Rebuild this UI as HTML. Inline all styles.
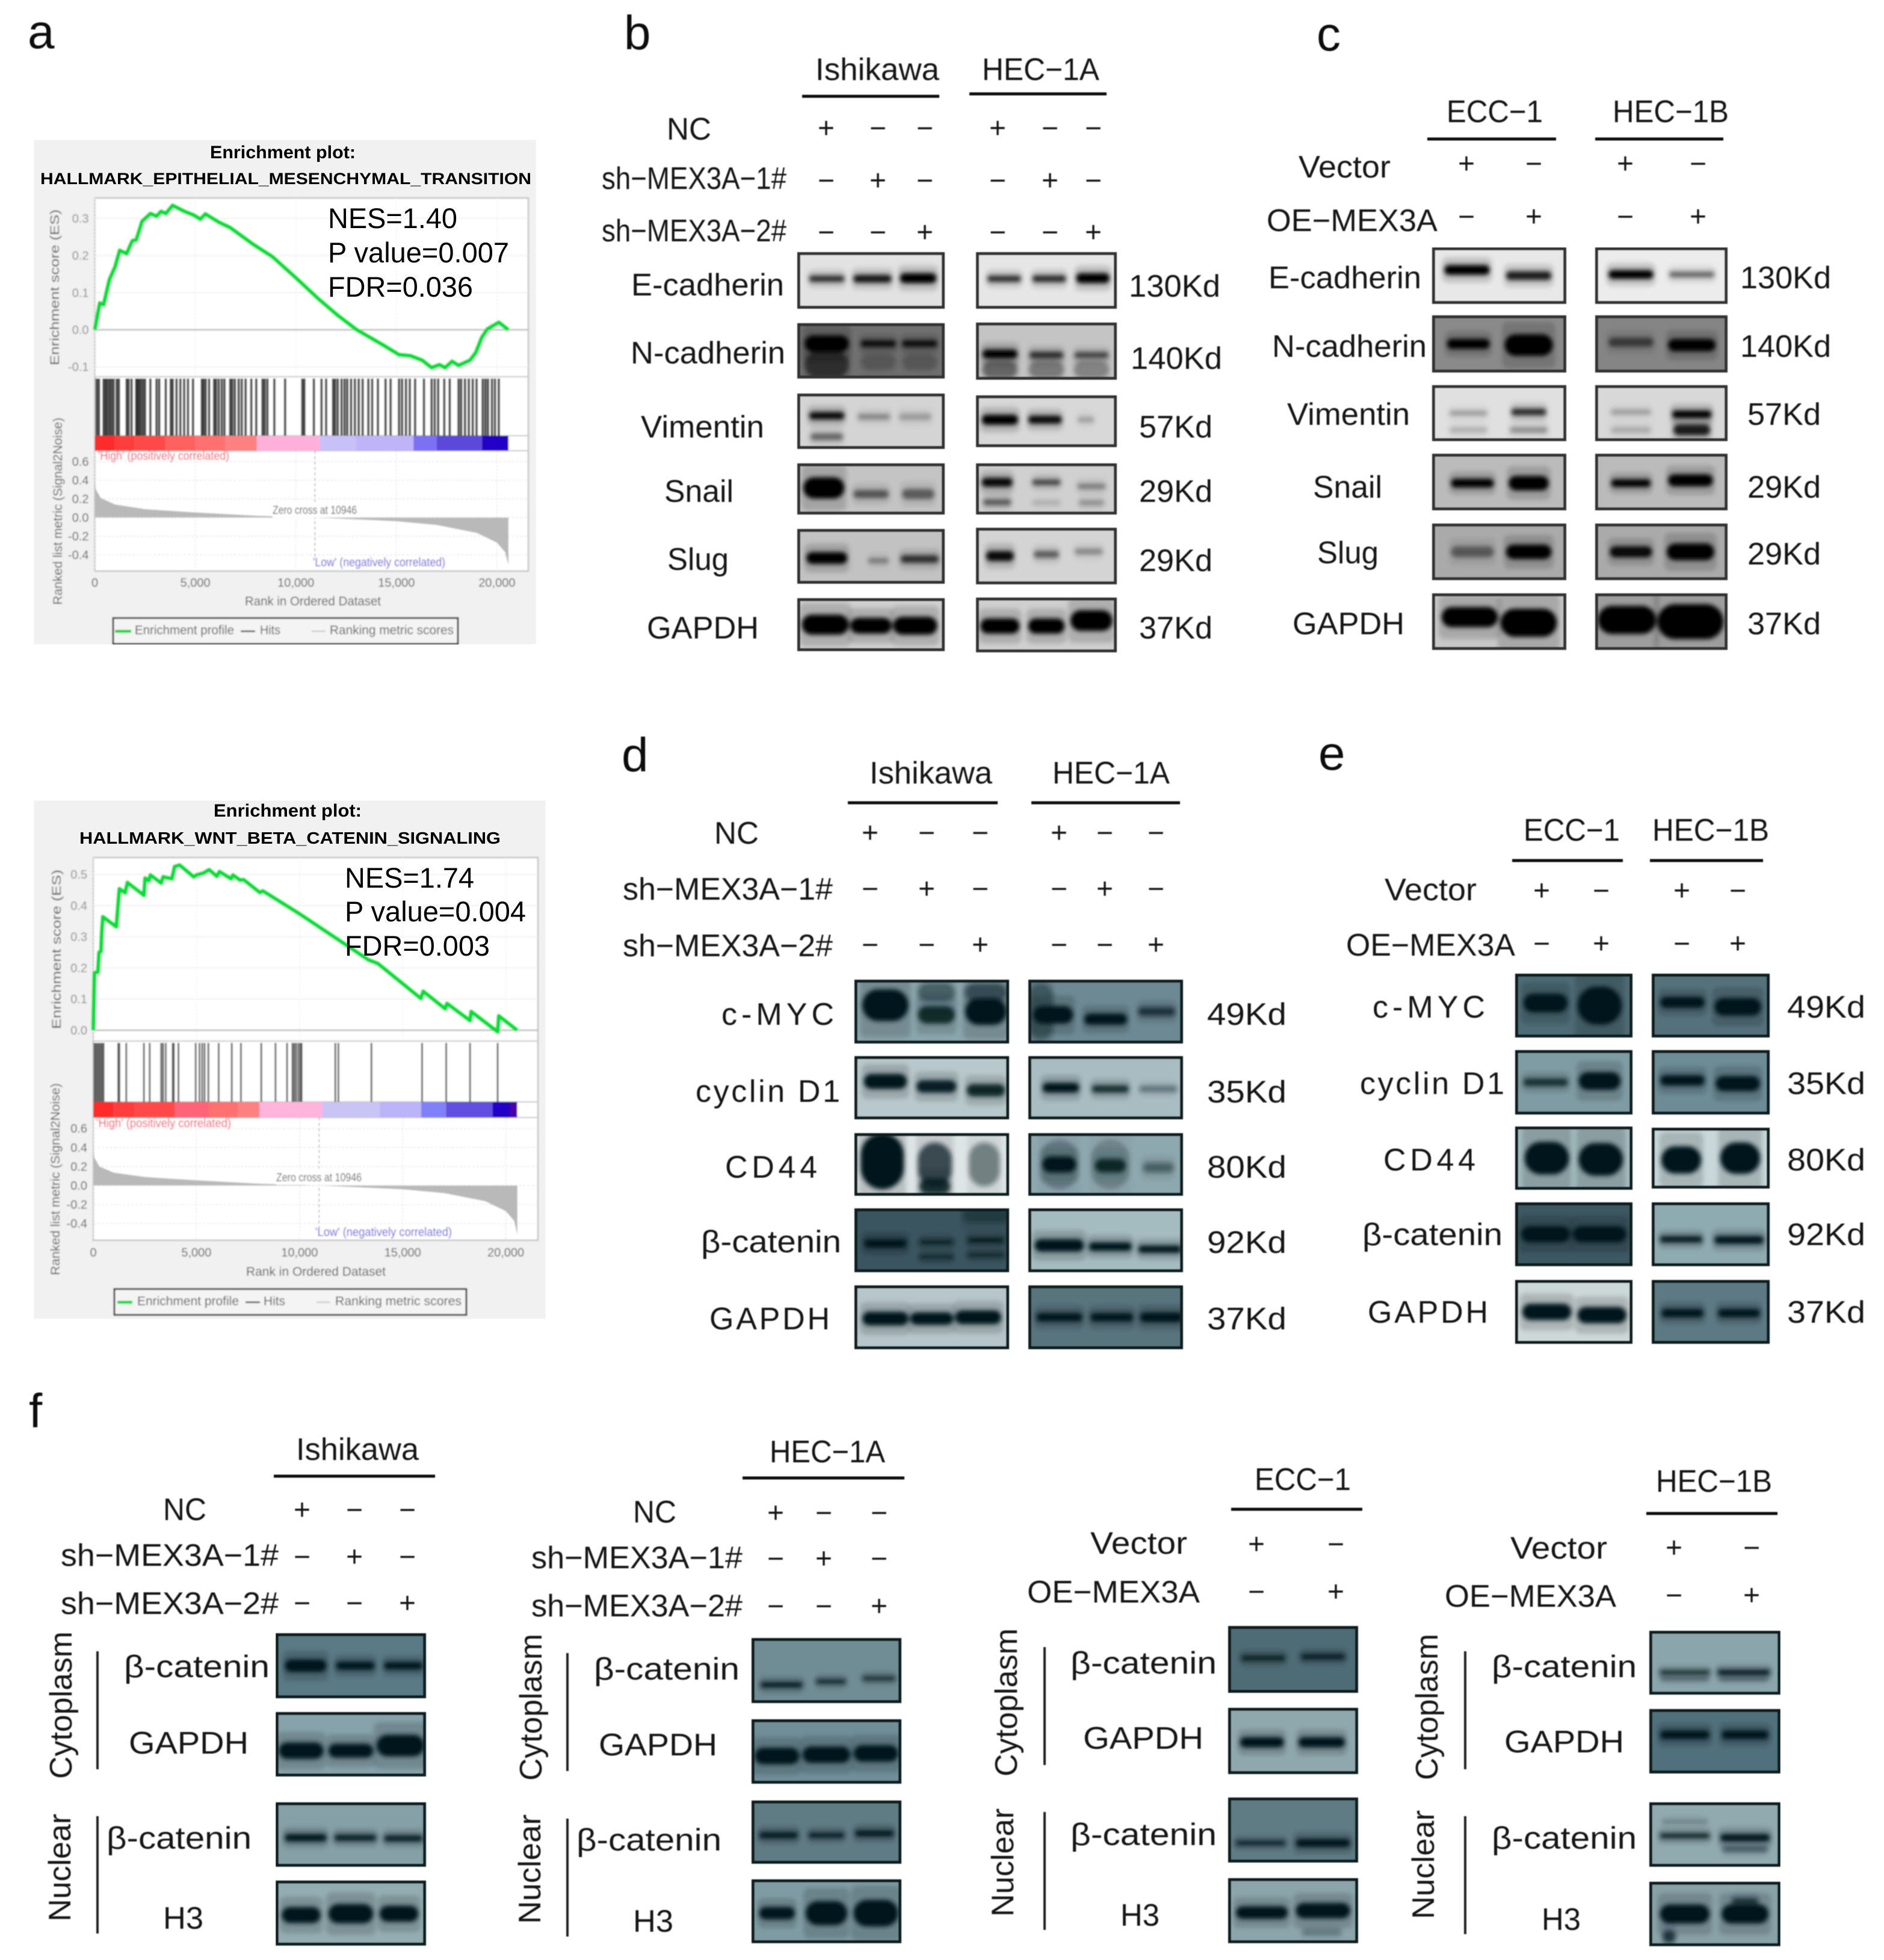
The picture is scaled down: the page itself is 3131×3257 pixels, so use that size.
<!DOCTYPE html>
<html lang="en">
<head>
<meta charset="utf-8">
<title>MEX3A enrichment plots and western blots</title>
<style>
html,body{margin:0;padding:0;background:#fff}
svg{display:block}
text{font-family:"Liberation Sans",Arial,sans-serif;fill:#141414}
.p{font-size:80px;fill:#111}
.t{font-size:52px}
.s{font-size:48px;text-anchor:middle}
.nes{font-size:47px;fill:#000}
.ti{font-size:30px;font-weight:bold;fill:#000}
.g{font-size:21px;fill:#555}
.tk{font-size:20px;fill:#8a8a8a}
.hi{font-size:20px;fill:#f04060}
.lo{font-size:20px;fill:#5a4ad8}
.zc{font-size:19px;fill:#555}
.ln{stroke:#111;stroke-width:5;fill:none}
.vl{stroke:#222;stroke-width:4;fill:none}
</style>
</head>
<body>
<svg id="figure" xmlns="http://www.w3.org/2000/svg" width="3131" height="3257" viewBox="0 0 3131 3257">
<defs>
<filter id="bandBlur" x="-30%" y="-80%" width="160%" height="260%"><feGaussianBlur stdDeviation="3.8"/></filter>
<filter id="softA" x="0" y="0" width="100%" height="100%"><feGaussianBlur stdDeviation="1"/></filter>
<filter id="softB" x="0" y="0" width="100%" height="100%"><feGaussianBlur stdDeviation="0.7"/></filter>
</defs>
<rect width="3131" height="3257" fill="#fff"/>

<!-- Panel a, top enrichment plot -->
<g filter="url(#softA)">
<rect x="56" y="232" width="835" height="839" fill="#f1f1f1"/>
<g id="chart1"></g>
<rect x="453" y="834" width="140" height="26" fill="#fff"/>
<text class="g" transform="rotate(-90 98 607)" x="98" y="607" textLength="259">Enrichment score (ES)</text>
<text class="g" transform="rotate(-90 103 1005)" x="103" y="1005" textLength="311">Ranked list metric (Signal2Noise)</text>
<text class="hi" x="163" y="764" textLength="218">'High' (positively correlated)</text>
<text class="lo" x="520" y="941" textLength="220">'Low' (negatively correlated)</text>
<text class="zc" x="453" y="854" textLength="140">Zero cross at 10946</text>
<text class="g" x="407" y="1006" textLength="226">Rank in Ordered Dataset</text>
<rect x="188" y="1027" width="573" height="43" fill="#f4f4f4" stroke="#333" stroke-width="3"/>
<line x1="191" x2="218" y1="1049" y2="1049" stroke="#00d840" stroke-width="5"/>
<text class="g" x="224" y="1054" textLength="165">Enrichment profile</text>
<line x1="400" x2="424" y1="1049" y2="1049" stroke="#444" stroke-width="2.5"/>
<text class="g" x="432" y="1054" textLength="34">Hits</text>
<line x1="518" x2="541" y1="1049" y2="1049" stroke="#ccc" stroke-width="2.5"/>
<text class="g" x="548" y="1054" textLength="206">Ranking metric scores</text>
</g>
<text class="ti" x="349" y="263" textLength="242">Enrichment plot:</text>
<text class="ti" x="67" y="306" textLength="816" style="font-size:27px">HALLMARK_EPITHELIAL_MESENCHYMAL_TRANSITION</text>
<text class="nes" x="545" y="379" textLength="215">NES=1.40</text>
<text class="nes" x="545" y="436" textLength="301">P value=0.007</text>
<text class="nes" x="545" y="493" textLength="241">FDR=0.036</text>

<!-- Panel a, bottom enrichment plot -->
<g filter="url(#softA)">
<rect x="56" y="1330" width="851" height="862" fill="#f1f1f1"/>
<g id="chart2"></g>
<rect x="459" y="1942" width="142" height="27" fill="#fff"/>
<text class="g" transform="rotate(-90 101 1710)" x="101" y="1710" textLength="265">Enrichment score (ES)</text>
<text class="g" transform="rotate(-90 99 2119)" x="99" y="2119" textLength="319">Ranked list metric (Signal2Noise)</text>
<text class="hi" x="160" y="1873" textLength="224">'High' (positively correlated)</text>
<text class="lo" x="524" y="2054" textLength="227">'Low' (negatively correlated)</text>
<text class="zc" x="459" y="1963" textLength="142">Zero cross at 10946</text>
<text class="g" x="409" y="2120" textLength="232">Rank in Ordered Dataset</text>
<rect x="190" y="2142" width="585" height="43" fill="#f4f4f4" stroke="#333" stroke-width="3"/>
<line x1="195" x2="220" y1="2164" y2="2164" stroke="#00d840" stroke-width="5"/>
<text class="g" x="228" y="2169" textLength="169">Enrichment profile</text>
<line x1="408" x2="432" y1="2164" y2="2164" stroke="#444" stroke-width="2.5"/>
<text class="g" x="438" y="2169" textLength="36">Hits</text>
<line x1="526" x2="548" y1="2164" y2="2164" stroke="#ccc" stroke-width="2.5"/>
<text class="g" x="557" y="2169" textLength="210">Ranking metric scores</text>
</g>
<text class="ti" x="355" y="1357" textLength="246">Enrichment plot:</text>
<text class="ti" x="132" y="1402" textLength="700" style="font-size:28px">HALLMARK_WNT_BETA_CATENIN_SIGNALING</text>
<text class="nes" x="573" y="1475" textLength="215">NES=1.74</text>
<text class="nes" x="573" y="1531" textLength="301">P value=0.004</text>
<text class="nes" x="573" y="1588" textLength="241">FDR=0.003</text>

<g id="blotLayer" filter="url(#softB)"></g>

<g filter="url(#softB)">
<!-- panel letters -->
<text class="p" x="46" y="80">a</text>
<text class="p" x="1037" y="82">b</text>
<text class="p" x="2188" y="84">c</text>
<text class="p" x="1033" y="1282">d</text>
<text class="p" x="2191" y="1279">e</text>
<text class="p" x="48" y="2372">f</text>

<!-- panel b -->
<text class="t" x="1355" y="133" textLength="206">Ishikawa</text>
<text class="t" x="1632" y="133" textLength="195">HEC−1A</text>
<line class="ln" x1="1333" x2="1561" y1="160" y2="160"/>
<line class="ln" x1="1611" x2="1839" y1="156" y2="156"/>
<text class="t" x="1108" y="232" textLength="74">NC</text>
<text class="t" x="1000" y="314" textLength="307">sh−MEX3A−1#</text>
<text class="t" x="1000" y="401" textLength="307">sh−MEX3A−2#</text>
<text class="s" y="229"><tspan x="1373">+</tspan><tspan x="1459">−</tspan><tspan x="1537">−</tspan><tspan x="1658">+</tspan><tspan x="1745">−</tspan><tspan x="1817">−</tspan></text>
<text class="s" y="316"><tspan x="1373">−</tspan><tspan x="1459">+</tspan><tspan x="1537">−</tspan><tspan x="1658">−</tspan><tspan x="1745">+</tspan><tspan x="1817">−</tspan></text>
<text class="s" y="402"><tspan x="1373">−</tspan><tspan x="1459">−</tspan><tspan x="1537">+</tspan><tspan x="1658">−</tspan><tspan x="1745">−</tspan><tspan x="1817">+</tspan></text>
<text class="t" x="1049" y="491" textLength="254">E-cadherin</text>
<text class="t" x="1048" y="604" textLength="257">N-cadherin</text>
<text class="t" x="1065" y="727" textLength="205">Vimentin</text>
<text class="t" x="1104" y="834" textLength="115">Snail</text>
<text class="t" x="1109" y="947" textLength="102">Slug</text>
<text class="t" x="1075" y="1061" textLength="186">GAPDH</text>
<text class="t" x="1876" y="493" textLength="152">130Kd</text>
<text class="t" x="1879" y="613" textLength="152">140Kd</text>
<text class="t" x="1893" y="727" textLength="122">57Kd</text>
<text class="t" x="1893" y="834" textLength="122">29Kd</text>
<text class="t" x="1893" y="949" textLength="122">29Kd</text>
<text class="t" x="1893" y="1061" textLength="122">37Kd</text>

<!-- panel c -->
<text class="t" x="2404" y="203" textLength="160">ECC−1</text>
<text class="t" x="2680" y="203" textLength="193">HEC−1B</text>
<line class="ln" x1="2372" x2="2586" y1="231" y2="231"/>
<line class="ln" x1="2651" x2="2864" y1="231" y2="231"/>
<text class="t" x="2158" y="295" textLength="153">Vector</text>
<text class="t" x="2105" y="384" textLength="284">OE−MEX3A</text>
<text class="s" y="288"><tspan x="2437">+</tspan><tspan x="2549">−</tspan><tspan x="2701">+</tspan><tspan x="2822">−</tspan></text>
<text class="s" y="376"><tspan x="2437">−</tspan><tspan x="2549">+</tspan><tspan x="2701">−</tspan><tspan x="2822">+</tspan></text>
<text class="t" x="2108" y="479" textLength="254">E-cadherin</text>
<text class="t" x="2114" y="593" textLength="257">N-cadherin</text>
<text class="t" x="2139" y="706" textLength="204">Vimentin</text>
<text class="t" x="2182" y="827" textLength="115">Snail</text>
<text class="t" x="2189" y="936" textLength="102">Slug</text>
<text class="t" x="2148" y="1054" textLength="186">GAPDH</text>
<text class="t" x="2892" y="479" textLength="151">130Kd</text>
<text class="t" x="2892" y="593" textLength="151">140Kd</text>
<text class="t" x="2904" y="706" textLength="122">57Kd</text>
<text class="t" x="2904" y="827" textLength="122">29Kd</text>
<text class="t" x="2904" y="938" textLength="122">29Kd</text>
<text class="t" x="2904" y="1054" textLength="122">37Kd</text>

<!-- panel d -->
<text class="t" x="1445" y="1302" textLength="204">Ishikawa</text>
<text class="t" x="1749" y="1302" textLength="195">HEC−1A</text>
<line class="ln" x1="1409" x2="1658" y1="1334" y2="1334"/>
<line class="ln" x1="1714" x2="1961" y1="1334" y2="1334"/>
<text class="t" x="1187" y="1402" textLength="74">NC</text>
<text class="t" x="1035" y="1495" textLength="349">sh−MEX3A−1#</text>
<text class="t" x="1035" y="1589" textLength="349">sh−MEX3A−2#</text>
<text class="s" y="1400"><tspan x="1446">+</tspan><tspan x="1540">−</tspan><tspan x="1629">−</tspan><tspan x="1760">+</tspan><tspan x="1836">−</tspan><tspan x="1921">−</tspan></text>
<text class="s" y="1493"><tspan x="1446">−</tspan><tspan x="1540">+</tspan><tspan x="1629">−</tspan><tspan x="1760">−</tspan><tspan x="1836">+</tspan><tspan x="1921">−</tspan></text>
<text class="s" y="1586"><tspan x="1446">−</tspan><tspan x="1540">−</tspan><tspan x="1629">+</tspan><tspan x="1760">−</tspan><tspan x="1836">−</tspan><tspan x="1921">+</tspan></text>
<text class="t sp" x="1199" y="1703" textLength="187">c-MYC</text>
<text class="t sp" x="1156" y="1831" textLength="240">cyclin D1</text>
<text class="t sp" x="1205" y="1957" textLength="153">CD44</text>
<text class="t" x="1165" y="2081" textLength="233">β-catenin</text>
<text class="t sp" x="1179" y="2209" textLength="200">GAPDH</text>
<text class="t" x="2006" y="1703" textLength="132">49Kd</text>
<text class="t" x="2006" y="1832" textLength="132">35Kd</text>
<text class="t" x="2006" y="1957" textLength="132">80Kd</text>
<text class="t" x="2006" y="2082" textLength="132">92Kd</text>
<text class="t" x="2006" y="2209" textLength="132">37Kd</text>

<!-- panel e -->
<text class="t" x="2532" y="1397" textLength="160">ECC−1</text>
<text class="t" x="2746" y="1397" textLength="194">HEC−1B</text>
<line class="ln" x1="2513" x2="2697" y1="1430" y2="1430"/>
<line class="ln" x1="2742" x2="2930" y1="1430" y2="1430"/>
<text class="t" x="2301" y="1496" textLength="153">Vector</text>
<text class="t" x="2237" y="1588" textLength="281">OE−MEX3A</text>
<text class="s" y="1496"><tspan x="2562">+</tspan><tspan x="2661">−</tspan><tspan x="2795">+</tspan><tspan x="2888">−</tspan></text>
<text class="s" y="1584"><tspan x="2562">−</tspan><tspan x="2661">+</tspan><tspan x="2795">−</tspan><tspan x="2888">+</tspan></text>
<text class="t sp" x="2281" y="1691" textLength="187">c-MYC</text>
<text class="t sp" x="2260" y="1818" textLength="240">cyclin D1</text>
<text class="t sp" x="2299" y="1945" textLength="153">CD44</text>
<text class="t" x="2264" y="2069" textLength="233">β-catenin</text>
<text class="t sp" x="2273" y="2198" textLength="200">GAPDH</text>
<text class="t" x="2970" y="1691" textLength="130">49Kd</text>
<text class="t" x="2970" y="1818" textLength="130">35Kd</text>
<text class="t" x="2970" y="1945" textLength="130">80Kd</text>
<text class="t" x="2970" y="2069" textLength="130">92Kd</text>
<text class="t" x="2970" y="2198" textLength="130">37Kd</text>

<!-- panel f: Ishikawa -->
<text class="t" x="492" y="2426" textLength="204">Ishikawa</text>
<line class="ln" x1="455" x2="723" y1="2453" y2="2453"/>
<text class="t" x="271" y="2526" textLength="72">NC</text>
<text class="t" x="101" y="2602" textLength="362">sh−MEX3A−1#</text>
<text class="t" x="101" y="2682" textLength="362">sh−MEX3A−2#</text>
<text class="s" y="2525"><tspan x="502">+</tspan><tspan x="589">−</tspan><tspan x="677">−</tspan></text>
<text class="s" y="2603"><tspan x="502">−</tspan><tspan x="589">+</tspan><tspan x="677">−</tspan></text>
<text class="s" y="2680"><tspan x="502">−</tspan><tspan x="589">−</tspan><tspan x="677">+</tspan></text>
<text class="t" transform="rotate(-90 119 2956)" x="119" y="2956" textLength="245">Cytoplasm</text>
<text class="t" transform="rotate(-90 117 3193)" x="117" y="3193" textLength="179">Nuclear</text>
<line class="vl" x1="162" x2="162" y1="2744" y2="2940"/>
<line class="vl" x1="162" x2="162" y1="3018" y2="3213"/>
<text class="t" x="206" y="2787" textLength="242">β-catenin</text>
<text class="t" x="214" y="2914" textLength="199">GAPDH</text>
<text class="t" x="177" y="3072" textLength="241">β-catenin</text>
<text class="t" x="271" y="3205" textLength="67">H3</text>

<!-- panel f: HEC-1A -->
<text class="t" x="1279" y="2430" textLength="192">HEC−1A</text>
<line class="ln" x1="1234" x2="1503" y1="2456" y2="2456"/>
<text class="t" x="1052" y="2530" textLength="72">NC</text>
<text class="t" x="883" y="2606" textLength="351">sh−MEX3A−1#</text>
<text class="t" x="883" y="2686" textLength="351">sh−MEX3A−2#</text>
<text class="s" y="2530"><tspan x="1289">+</tspan><tspan x="1369">−</tspan><tspan x="1461">−</tspan></text>
<text class="s" y="2606"><tspan x="1289">−</tspan><tspan x="1369">+</tspan><tspan x="1461">−</tspan></text>
<text class="s" y="2685"><tspan x="1289">−</tspan><tspan x="1369">−</tspan><tspan x="1461">+</tspan></text>
<text class="t" transform="rotate(-90 900 2959)" x="900" y="2959" textLength="244">Cytoplasm</text>
<text class="t" transform="rotate(-90 898 3197)" x="898" y="3197" textLength="182">Nuclear</text>
<line class="vl" x1="943" x2="943" y1="2747" y2="2943"/>
<line class="vl" x1="943" x2="943" y1="3022" y2="3218"/>
<text class="t" x="987" y="2791" textLength="242">β-catenin</text>
<text class="t" x="995" y="2917" textLength="197">GAPDH</text>
<text class="t" x="958" y="3075" textLength="241">β-catenin</text>
<text class="t" x="1052" y="3210" textLength="67">H3</text>

<!-- panel f: ECC-1 -->
<text class="t" x="2085" y="2476" textLength="160">ECC−1</text>
<line class="ln" x1="2046" x2="2264" y1="2508" y2="2508"/>
<text class="t" x="1812" y="2582" textLength="161">Vector</text>
<text class="t" x="1707" y="2663" textLength="287">OE−MEX3A</text>
<text class="s" y="2582"><tspan x="2088">+</tspan><tspan x="2220">−</tspan></text>
<text class="s" y="2661"><tspan x="2088">−</tspan><tspan x="2220">+</tspan></text>
<text class="t" transform="rotate(-90 1690 2952)" x="1690" y="2952" textLength="246">Cytoplasm</text>
<text class="t" transform="rotate(-90 1684 3185)" x="1684" y="3185" textLength="180">Nuclear</text>
<line class="vl" x1="1736" x2="1736" y1="2737" y2="2933"/>
<line class="vl" x1="1736" x2="1736" y1="3011" y2="3207"/>
<text class="t" x="1779" y="2781" textLength="243">β-catenin</text>
<text class="t" x="1800" y="2906" textLength="200">GAPDH</text>
<text class="t" x="1779" y="3066" textLength="243">β-catenin</text>
<text class="t" x="1862" y="3200" textLength="65">H3</text>

<!-- panel f: HEC-1B -->
<text class="t" x="2752" y="2479" textLength="193">HEC−1B</text>
<line class="ln" x1="2736" x2="2954" y1="2515" y2="2515"/>
<text class="t" x="2510" y="2590" textLength="161">Vector</text>
<text class="t" x="2401" y="2670" textLength="285">OE−MEX3A</text>
<text class="s" y="2588"><tspan x="2782">+</tspan><tspan x="2911">−</tspan></text>
<text class="s" y="2667"><tspan x="2782">−</tspan><tspan x="2911">+</tspan></text>
<text class="t" transform="rotate(-90 2389 2958)" x="2389" y="2958" textLength="243">Cytoplasm</text>
<text class="t" transform="rotate(-90 2383 3189)" x="2383" y="3189" textLength="181">Nuclear</text>
<line class="vl" x1="2435" x2="2435" y1="2744" y2="2940"/>
<line class="vl" x1="2435" x2="2435" y1="3018" y2="3214"/>
<text class="t" x="2479" y="2787" textLength="241">β-catenin</text>
<text class="t" x="2500" y="2912" textLength="199">GAPDH</text>
<text class="t" x="2479" y="3072" textLength="241">β-catenin</text>
<text class="t" x="2562" y="3207" textLength="65">H3</text>
</g>
</svg>

<script>
// ---------- chart data ----------
const xTickValues = [0, 5000, 10000, 15000, 20000];
const xTickLabels = ["0", "5,000", "10,000", "15,000", "20,000"];
const metricTickValues = [-0.4, -0.2, 0, 0.2, 0.4, 0.6];
const metricTickLabels = ["-0.4", "-0.2", "0.0", "0.2", "0.4", "0.6"];
const emtEsTickValues = [-0.1, 0, 0.1, 0.2, 0.3];
const emtEsTickLabels = ["-0.1", "0.0", "0.1", "0.2", "0.3"];
const wntEsTickValues = [0, 0.1, 0.2, 0.3, 0.4, 0.5];
const wntEsTickLabels = ["0.0", "0.1", "0.2", "0.3", "0.4", "0.5"];

const emtRanks = [0,250,440,725,1010,1240,1580,1870,2060,2350,2770,3070,3300,3530,3870,4450,4920,5250,5500,6160,6740,7880,8830,9980,11130,12080,13030,14370,15130,15700,16280,16750,17140,17420,17770,18090,18660,18950,19240,19520,20090,20570];
const emtScores = [0,.072,.068,.135,.17,.214,.205,.24,.242,.292,.313,.306,.319,.313,.335,.319,.309,.298,.312,.29,.275,.23,.197,.141,.083,.039,0,-.042,-.067,-.07,-.082,-.102,-.094,-.102,-.085,-.096,-.082,-.061,-.021,.002,.02,0];
const emtHits = [95,210,440,535,610,725,820,935,1090,1200,1585,1680,1830,2060,2120,2195,2270,2385,2500,2765,3070,3205,3530,3780,3875,4065,4255,4445,4635,4885,5325,5400,5515,5685,5935,6030,6165,6315,6450,6735,6830,6965,7155,7310,7500,7785,8030,8340,8450,8585,8930,9465,10320,10420,10895,11275,11505,11850,11945,12080,12270,12420,12555,12745,12935,13125,13320,13605,13795,14080,14460,14710,15130,15280,15475,15665,15930,16370,16750,16905,17075,17380,17650,18090,18220,18410,18600,18795,18985,19290,19425,19555,19750,19900,20090];
const emtBarEnds = [1000,2000,3500,5000,6500,8050,11180,13000,15850,17000,19250,20570];
const emtBarColors = ["#ff2a2a","#ff3c3c","#ff4a4a","#ff6060","#ff7070","#ff8080","#ffb0da","#c8c0f8","#c0b4f8","#7c70f4","#5c48dc","#2400c8"];
const emtMetricRanks = [0,60,300,1000,2500,5000,8000,10946,15000,17000,19000,20000,20400,20570];
const emtMetricValues = [.39,.3,.21,.14,.09,.055,.02,0,-.04,-.08,-.165,-.27,-.37,-.51];

const wntRanks = [0,56,223,280,372,410,465,1116,1265,1544,1655,2455,2511,2697,2771,3292,3385,3813,3943,4185,4873,5003,5338,5617,5989,6119,6677,6770,7105,7291,8072,8221,9988,13336,13801,15884,15996,17056,17149,18265,18321,19604,19660,20553];
const wntScores = [0,.184,.187,.25,.253,.314,.364,.332,.454,.441,.474,.433,.488,.48,.498,.472,.492,.486,.525,.53,.492,.498,.504,.515,.494,.509,.486,.498,.482,.483,.442,.447,.374,.226,.214,.102,.125,.069,.086,.031,.06,-.005,.046,0];
const wntHits = [56,130,205,280,355,430,500,1210,1265,1600,2455,2735,3290,3385,3515,3850,3905,4130,4965,5150,5280,5395,5580,6080,6715,7160,8145,8835,9395,9655,9745,9840,9950,10045,10100,11735,11885,13485,15940,17110,18265,19605];
const wntBarEnds = [1000,2000,3950,5600,7000,8050,11100,13900,15900,17100,19350,20200,20550];
const wntBarColors = ["#ff2a2a","#ff3c3c","#ff4a4a","#ff6478","#ff7070","#ff8080","#ffb4dc","#c8c4f4","#bcb4f8","#8080f8","#6050e0","#2400c8","#4a00a8"];
const wntMetricRanks = [0,60,300,1000,2500,5000,8000,10946,15000,17000,19000,20000,20400,20560];
const wntMetricValues = [.375,.29,.2,.135,.09,.055,.02,0,-.04,-.08,-.165,-.27,-.37,-.52];

// ---------- blot data: [name, x, y, w, h, background, bands]; band = [cx, cy, w, h, opacity] as fractions ----------
const blotsGrey = [
["b-ishikawa-e-cadherin",1325,419,245,94,"#e2e2e2",[[.2,.47,.24,.11,.8],[.51,.47,.26,.14,.9],[.82,.46,.25,.18,1]]],
["b-ishikawa-n-cadherin",1325,537,245,92,"#707070",[[.2,.37,.3,.3,1],[.2,.75,.3,.5,.55],[.55,.37,.24,.12,.9],[.83,.37,.24,.12,.9],[.55,.7,.24,.3,.2],[.83,.7,.24,.3,.2]]],
["b-ishikawa-vimentin",1325,654,245,92,"#d4d4d4",[[.2,.4,.24,.14,.95],[.2,.78,.22,.12,.5],[.52,.42,.22,.1,.35],[.8,.42,.22,.12,.25]]],
["b-ishikawa-snail",1325,770,245,85,"#c4c4c4",[[.18,.48,.28,.42,1],[.5,.6,.24,.16,.55],[.82,.6,.22,.2,.5]]],
["b-ishikawa-slug",1325,879,245,91,"#c2c2c2",[[.2,.53,.28,.22,1],[.55,.58,.14,.08,.4],[.83,.55,.26,.14,.75]]],
["b-ishikawa-gapdh",1325,994,245,88,"#d0d0d0",[[.19,.5,.32,.38,1],[.5,.52,.28,.3,1],[.8,.52,.3,.34,1]]],
["b-hec1a-e-cadherin",1622,419,234,94,"#e6e6e6",[[.2,.47,.24,.11,.8],[.52,.47,.24,.12,.8],[.83,.46,.24,.18,1]]],
["b-hec1a-n-cadherin",1622,536,234,95,"#c4c4c4",[[.17,.55,.25,.16,1],[.17,.82,.25,.3,.45],[.5,.57,.24,.12,.75],[.5,.82,.25,.3,.35],[.82,.57,.24,.1,.65],[.82,.82,.25,.3,.3]]],
["b-hec1a-vimentin",1622,657,234,86,"#d8d8d8",[[.17,.47,.26,.2,1],[.49,.47,.24,.16,.95],[.78,.47,.12,.1,.25]]],
["b-hec1a-snail",1622,770,234,85,"#d0d0d0",[[.15,.37,.22,.18,.95],[.15,.76,.2,.12,.55],[.5,.37,.2,.1,.7],[.5,.77,.2,.06,.2],[.82,.45,.2,.1,.4],[.82,.77,.18,.1,.3]]],
["b-hec1a-slug",1622,877,234,94,"#d4d4d4",[[.17,.5,.2,.18,.95],[.5,.47,.18,.12,.55],[.8,.42,.2,.1,.35]]],
["b-hec1a-gapdh",1622,993,234,91,"#cfcfcf",[[.17,.52,.28,.28,1],[.5,.52,.26,.28,1],[.82,.42,.3,.38,1]]],
["c-ecc1-e-cadherin",2380,411,223,94,"#e8e8e8",[[.26,.4,.34,.18,1],[.72,.5,.34,.16,.85]]],
["c-ecc1-n-cadherin",2380,524,223,95,"#8a8a8a",[[.27,.5,.32,.18,1],[.72,.52,.36,.38,1]]],
["c-ecc1-vimentin",2380,640,223,93,"#e0e0e0",[[.27,.5,.28,.08,.3],[.27,.8,.28,.1,.2],[.72,.48,.26,.12,.8],[.72,.8,.28,.1,.35]]],
["c-ecc1-snail",2380,754,223,94,"#bbbbbb",[[.3,.52,.32,.16,1],[.72,.52,.3,.26,1]]],
["c-ecc1-slug",2380,870,223,94,"#aaaaaa",[[.3,.5,.32,.2,.45],[.72,.5,.34,.26,1]]],
["c-ecc1-gapdh",2380,986,223,94,"#c8c8c8",[[.28,.42,.42,.36,1],[.72,.52,.42,.5,1]]],
["c-hec1b-e-cadherin",2651,411,220,94,"#ececec",[[.27,.48,.34,.16,1],[.73,.48,.34,.1,.55]]],
["c-hec1b-n-cadherin",2651,524,220,95,"#858585",[[.27,.47,.34,.16,.55],[.73,.52,.36,.22,1]]],
["c-hec1b-vimentin",2651,640,220,93,"#d8d8d8",[[.27,.48,.3,.07,.3],[.27,.8,.3,.1,.2],[.73,.52,.3,.14,1],[.73,.8,.28,.2,.85]]],
["c-hec1b-snail",2651,754,220,94,"#bbbbbb",[[.27,.52,.3,.14,1],[.72,.47,.34,.22,1]]],
["c-hec1b-slug",2651,870,220,94,"#aaaaaa",[[.27,.5,.32,.2,.95],[.72,.5,.36,.3,1]]],
["c-hec1b-gapdh",2651,986,220,94,"#bbbbbb",[[.24,.47,.44,.5,1],[.72,.5,.5,.62,1]]]
];
const blotsTeal = [
["d-ishikawa-cmyc",1420,1628,257,106,"#8aa6ad",[[.2,.4,.3,.5,1],[.53,.2,.24,.3,.45],[.53,.55,.24,.28,.85],[.85,.2,.27,.3,.5],[.85,.5,.27,.42,1]]],
["d-ishikawa-cyclin-d1",1420,1755,257,105,"#b8c8cc",[[.2,.4,.28,.24,1],[.53,.48,.26,.2,.95],[.85,.54,.25,.2,.9]]],
["d-ishikawa-cd44",1420,1883,257,104,"#dde5e6",[[.18,.45,.28,.9,1],[.52,.5,.22,.7,.7],[.52,.85,.2,.25,.85],[.84,.5,.2,.7,.45]]],
["d-ishikawa-beta-catenin",1420,2008,257,106,"#3a5560",[[.2,.55,.28,.14,1],[.53,.53,.22,.07,.85],[.53,.76,.22,.06,.8],[.85,.5,.24,.08,.9],[.85,.73,.24,.06,.8],[.85,.12,.3,.22,.4]]],
["d-ishikawa-gapdh",1420,2136,257,106,"#b6c6ca",[[.2,.52,.3,.22,1],[.5,.52,.28,.2,1],[.8,.5,.3,.22,1]]],
["d-hec1a-cmyc",1709,1628,257,106,"#6d8a94",[[.08,.5,.16,.9,.4],[.16,.55,.26,.28,1],[.5,.62,.28,.18,1],[.83,.5,.24,.14,.7]]],
["d-hec1a-cyclin-d1",1709,1755,257,105,"#a8bcc2",[[.21,.5,.24,.16,1],[.53,.52,.24,.12,.85],[.84,.52,.24,.07,.5]]],
["d-hec1a-cd44",1709,1883,257,104,"#8ea8af",[[.2,.5,.25,.8,.25],[.53,.5,.25,.8,.2],[.2,.5,.22,.26,1],[.53,.52,.2,.22,.85],[.84,.55,.2,.16,.45]]],
["d-hec1a-beta-catenin",1709,2008,257,106,"#a4bbc0",[[.2,.58,.32,.2,1],[.53,.6,.28,.14,1],[.85,.64,.28,.12,1]]],
["d-hec1a-gapdh",1709,2136,257,106,"#58747e",[[.2,.5,.3,.14,1],[.54,.5,.28,.14,1],[.86,.5,.28,.16,1]]],
["e-ecc1-cmyc",2518,1618,195,106,"#4e6c76",[[.26,.46,.38,.3,1],[.72,.5,.38,.6,1]]],
["e-ecc1-cyclin-d1",2518,1745,195,107,"#7f9ca4",[[.26,.5,.38,.12,.8],[.72,.48,.36,.28,1]]],
["e-ecc1-cd44",2518,1872,195,105,"#a4bcc0",[[.27,.5,.38,.52,1],[.73,.52,.38,.52,1]]],
["e-ecc1-beta-catenin",2518,1998,195,106,"#3c5862",[[.26,.5,.42,.26,1],[.72,.5,.46,.26,1]]],
["e-ecc1-gapdh",2518,2127,195,106,"#cdd8d8",[[.27,.5,.42,.26,1],[.74,.55,.42,.26,1]]],
["e-hec1b-cmyc",2745,1618,196,106,"#55727c",[[.26,.45,.38,.18,1],[.73,.52,.4,.28,1]]],
["e-hec1b-cyclin-d1",2745,1745,196,107,"#6d8c96",[[.26,.47,.38,.17,1],[.73,.52,.38,.24,1]]],
["e-hec1b-cd44",2745,1874,196,101,"#c8d8da",[[.25,.53,.34,.45,1],[.75,.5,.34,.52,1]]],
["e-hec1b-beta-catenin",2745,1998,196,106,"#8fabb2",[[.25,.58,.36,.1,1],[.74,.59,.42,.13,1]]],
["e-hec1b-gapdh",2745,2127,196,106,"#5d7a84",[[.26,.52,.36,.14,1],[.74,.52,.36,.14,1]]],
["f-ishikawa-cyt-beta-catenin",458,2714,250,108,"#5a7a86",[[.2,.5,.28,.2,1],[.53,.5,.26,.13,1],[.85,.5,.26,.12,1]]],
["f-ishikawa-cyt-gapdh",458,2845,250,107,"#86a2aa",[[.17,.6,.3,.26,1],[.5,.6,.3,.22,1],[.83,.52,.32,.34,1]]],
["f-ishikawa-nuc-beta-catenin",458,2995,250,107,"#86a0a8",[[.2,.55,.28,.12,1],[.53,.55,.28,.1,.95],[.85,.56,.26,.1,.95]]],
["f-ishikawa-h3",458,3125,250,108,"#93adb2",[[.17,.53,.26,.25,1],[.5,.51,.3,.3,1],[.82,.51,.26,.25,1]]],
["f-hec1a-cyt-beta-catenin",1249,2722,249,108,"#708c94",[[.2,.72,.28,.08,1],[.53,.67,.2,.06,.95],[.85,.62,.22,.06,.85]]],
["f-hec1a-cyt-gapdh",1249,2857,249,107,"#6f8e98",[[.17,.57,.3,.26,1],[.5,.55,.32,.26,1],[.83,.53,.3,.26,1]]],
["f-hec1a-nuc-beta-catenin",1249,2992,249,105,"#5f7b85",[[.18,.55,.26,.1,1],[.5,.55,.24,.08,.95],[.82,.52,.26,.1,1]]],
["f-hec1a-h3",1249,3123,249,106,"#7f9ca4",[[.17,.53,.24,.2,1],[.5,.53,.28,.38,1],[.83,.53,.3,.42,1]]],
["f-ecc1-cyt-beta-catenin",2041,2702,216,111,"#4e6c76",[[.27,.48,.34,.08,.9],[.73,.46,.34,.08,.95]]],
["f-ecc1-cyt-gapdh",2041,2838,216,110,"#8fa8ae",[[.26,.52,.34,.16,1],[.72,.52,.36,.16,1]]],
["f-ecc1-nuc-beta-catenin",2041,2987,216,108,"#5f7b85",[[.25,.7,.38,.06,1],[.73,.7,.42,.13,1]]],
["f-ecc1-h3",2041,3121,216,108,"#8ba5ab",[[.26,.53,.4,.2,1],[.73,.5,.42,.24,1],[.72,.83,.3,.07,.35]]],
["f-hec1b-cyt-beta-catenin",2741,2710,218,106,"#8aa6ac",[[.27,.65,.38,.06,.9],[.72,.65,.4,.08,1],[.27,.75,.36,.03,.6],[.72,.75,.36,.03,.6]]],
["f-hec1b-cyt-gapdh",2741,2840,218,107,"#50707c",[[.27,.4,.38,.14,1],[.73,.4,.36,.14,1]]],
["f-hec1b-nuc-beta-catenin",2741,2995,218,107,"#90aab0",[[.27,.3,.34,.04,.3],[.27,.52,.38,.08,.9],[.73,.55,.38,.12,1],[.73,.73,.34,.06,.6]]],
["f-hec1b-h3",2741,3127,218,107,"#88a2a8",[[.27,.5,.38,.3,1],[.73,.5,.36,.3,1],[.73,.3,.2,.08,.8],[.15,.85,.1,.2,.7]]]
];

const NS = "http://www.w3.org/2000/svg";

function node(parent, tag, attrs, name) {
  const el = document.createElementNS(NS, tag);
  for (const k in attrs) el.setAttribute(k, attrs[k]);
  
  
  parent.appendChild(el);
  return el;
}

function drawGsea(cfg) {
  const g = document.getElementById(cfg.id);
  const x = r => cfg.x0 + r * cfg.xPerRank;
  const yEs = v => cfg.esZero - v * cfg.esUnit;
  const yM = v => cfg.metricZero - v * cfg.metricUnit;

  node(g, 'rect', {x: cfg.x0, y: cfg.top, width: cfg.right - cfg.x0, height: cfg.bottom - cfg.top, fill: '#fff', stroke: '#c4c4c4', 'stroke-width': 2.5}, 'plot-area');

  // gridlines
  xTickValues.forEach(v => {
    node(g, 'line', {x1: x(v), x2: x(v), y1: cfg.top, y2: cfg.esBottom, stroke: '#eee', 'stroke-width': 1.5, 'stroke-dasharray': '3 3'}, 'x-grid-es');
    node(g, 'line', {x1: x(v), x2: x(v), y1: cfg.barBottom, y2: cfg.bottom, stroke: '#e6e6e6', 'stroke-width': 1.5, 'stroke-dasharray': '3 3'}, 'x-grid-metric');
  });
  cfg.esTicks.forEach((v, i) => {
    node(g, 'line', {x1: cfg.x0, x2: cfg.right, y1: yEs(v), y2: yEs(v), stroke: v === 0 ? '#bdbdbd' : '#eee', 'stroke-width': v === 0 ? 2.5 : 1.5}, 'es-gridline');
    const t = node(g, 'text', {x: cfg.x0 - 10, y: yEs(v) + 7, 'text-anchor': 'end', class: 'tk'}, 'es-tick-label');
    t.textContent = cfg.esLabels[i];
  });
  metricTickValues.forEach((v, i) => {
    node(g, 'line', {x1: cfg.x0, x2: cfg.right, y1: yM(v), y2: yM(v), stroke: '#e8e8e8', 'stroke-width': 1.5, 'stroke-dasharray': '4 3'}, 'metric-gridline');
    const t = node(g, 'text', {x: cfg.x0 - 10, y: yM(v) + 7, 'text-anchor': 'end', class: 'tk', style: 'fill:#555'}, 'metric-tick-label');
    t.textContent = metricTickLabels[i];
  });
  xTickValues.forEach((v, i) => {
    const t = node(g, 'text', {x: x(v), y: cfg.xLabelY, 'text-anchor': 'middle', class: 'tk', style: 'fill:#555'}, 'x-tick-label');
    t.textContent = xTickLabels[i];
  });

  // section separators
  node(g, 'line', {x1: cfg.x0, x2: cfg.right, y1: cfg.esBottom, y2: cfg.esBottom, stroke: '#c8c8c8', 'stroke-width': 2}, 'es-section-border');
  node(g, 'line', {x1: cfg.x0, x2: cfg.right, y1: cfg.barTop, y2: cfg.barTop, stroke: '#c8c8c8', 'stroke-width': 2}, 'hits-section-border');
  node(g, 'line', {x1: cfg.x0, x2: cfg.right, y1: cfg.barBottom, y2: cfg.barBottom, stroke: '#c8c8c8', 'stroke-width': 2}, 'colorbar-section-border');

  // hit ticks
  cfg.hits.forEach(r => {
    node(g, 'line', {x1: x(r), x2: x(r), y1: cfg.esBottom + 3, y2: cfg.barTop, stroke: '#1c1c1c', 'stroke-width': cfg.hitWidth, 'stroke-opacity': cfg.hitOpacity}, 'hit-tick');
  });

  // colour bar
  let start = 0;
  cfg.barEnds.forEach((end, i) => {
    node(g, 'rect', {x: x(start), y: cfg.barTop, width: x(end) - x(start), height: cfg.barBottom - cfg.barTop, fill: cfg.barColors[i]}, 'rank-colorbar-segment');
    start = end;
  });

  // ranking metric area
  let d = 'M' + x(cfg.metricRanks[0]) + ' ' + yM(0);
  cfg.metricRanks.forEach((r, i) => { d += ' L' + x(r) + ' ' + yM(cfg.metricValues[i]); });
  d += ' L' + x(cfg.metricRanks[cfg.metricRanks.length - 1]) + ' ' + yM(0) + ' Z';
  node(g, 'path', {d: d, fill: '#b9b9b9'}, 'ranking-metric-area');
  node(g, 'line', {x1: x(cfg.zero), x2: x(cfg.zero), y1: cfg.barBottom, y2: cfg.bottom - 20, stroke: '#aaa', 'stroke-width': 1.5, 'stroke-dasharray': '5 4'}, 'zero-cross-line');

  // enrichment profile
  const pts = cfg.ranks.map((r, i) => x(r) + ',' + yEs(cfg.scores[i])).join(' ');
  node(g, 'polyline', {points: pts, fill: 'none', stroke: '#00e03c', 'stroke-width': 7, 'stroke-linejoin': 'round'}, 'enrichment-profile-line');
}

drawGsea({
  id: 'chart1', x0: 157.5, right: 878, top: 329, bottom: 949, esBottom: 626, barTop: 724, barBottom: 749,
  xPerRank: 668.4 / 20000, esZero: 548, esUnit: 617, metricZero: 860, metricUnit: 155, xLabelY: 975, zero: 10946,
  hitWidth: 4, hitOpacity: .78,
  esTicks: emtEsTickValues, esLabels: emtEsTickLabels, ranks: emtRanks, scores: emtScores, hits: emtHits,
  barEnds: emtBarEnds, barColors: emtBarColors, metricRanks: emtMetricRanks, metricValues: emtMetricValues
});
drawGsea({
  id: 'chart2', x0: 155, right: 894, top: 1425, bottom: 2061, esBottom: 1730, barTop: 1831, barBottom: 1857,
  xPerRank: 685.6 / 20000, esZero: 1712, esUnit: 518, metricZero: 1970, metricUnit: 158, xLabelY: 2088, zero: 10946,
  hitWidth: 3, hitOpacity: .65,
  esTicks: wntEsTickValues, esLabels: wntEsTickLabels, ranks: wntRanks, scores: wntScores, hits: wntHits,
  barEnds: wntBarEnds, barColors: wntBarColors, metricRanks: wntMetricRanks, metricValues: wntMetricValues
});

function drawBlots(list, ink, edge) {
  const layer = document.getElementById('blotLayer');
  list.forEach(b => {
    const [name, bx, by, bw, bh, bg, bands] = b;
    const s = node(layer, 'svg', {x: bx, y: by, width: bw, height: bh, viewBox: '0 0 ' + bw + ' ' + bh}, name + '-blot');
    node(s, 'rect', {width: bw, height: bh, fill: bg}, name + '-background');
    const g = node(s, 'g', {filter: 'url(#bandBlur)'}, name + '-bands');
    bands.forEach(q => {
      const w = q[2] * bw, h = q[3] * bh;
      node(g, 'rect', {x: q[0] * bw - w * .55, y: q[1] * bh - h * .9 - 6, width: w * 1.1, height: h * 1.8 + 12, rx: 10, fill: ink, 'fill-opacity': q[4] * .16}, name + '-band-smear');
      node(g, 'rect', {x: q[0] * bw - w / 2, y: q[1] * bh - h / 2, width: w, height: h, rx: Math.min(w, h) / 2, fill: ink, 'fill-opacity': q[4]}, name + '-band');
    });
    node(s, 'rect', {x: 2.5, y: 2.5, width: bw - 5, height: bh - 5, fill: 'none', stroke: edge, 'stroke-width': 5}, name + '-frame');
  });
}
drawBlots(blotsGrey, '#060606', '#333333');
drawBlots(blotsTeal, '#03151b', '#101a1e');

// fit label widths to the measured text extents
document.querySelectorAll('text[textLength]').forEach(t => {
  if (!t.classList.contains('sp')) t.setAttribute('lengthAdjust', 'spacingAndGlyphs');
});
</script>
</body>
</html>
